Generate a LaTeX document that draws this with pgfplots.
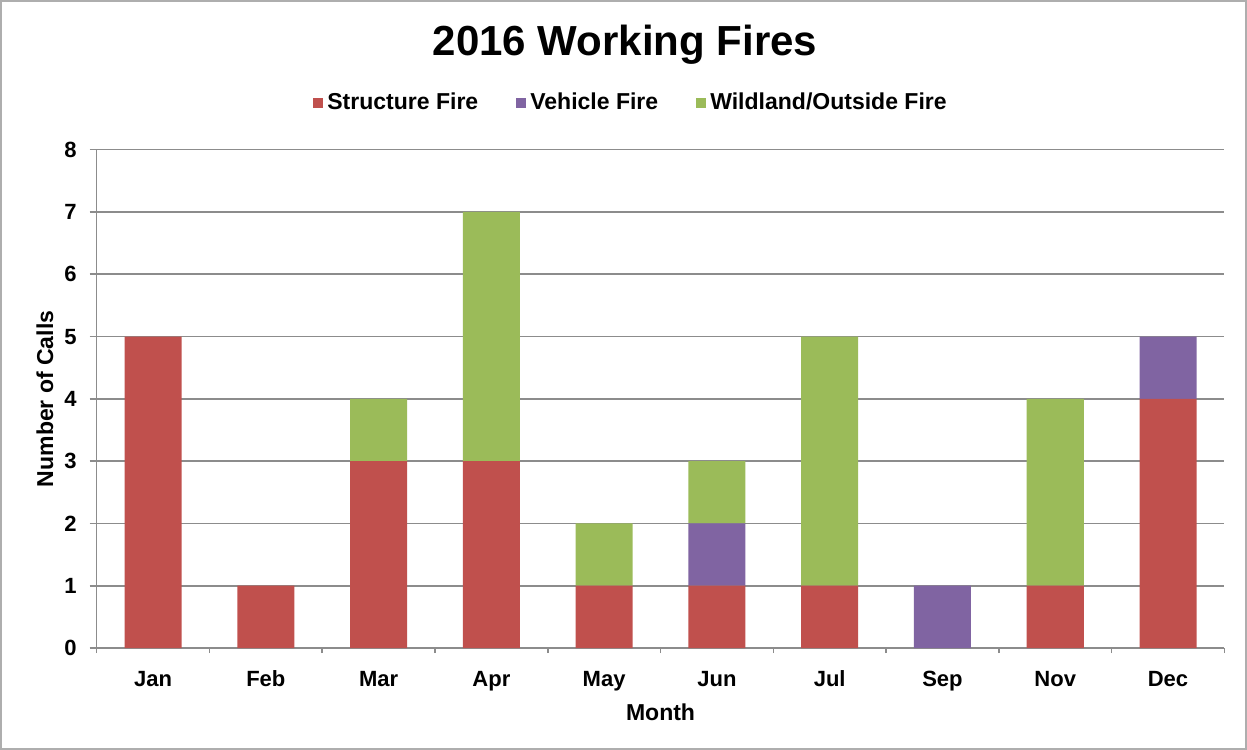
\documentclass[border=0pt]{standalone}
\usepackage{pgfplots}
\pgfplotsset{compat=1.18}
\usepackage{fontspec}
\setmainfont{Liberation Sans}
\definecolor{sfire}{HTML}{C0504D}
\definecolor{vfire}{HTML}{8064A2}
\definecolor{wfire}{HTML}{9BBB59}
\definecolor{gridgray}{HTML}{8C8C8C}
\begin{document}
\begin{tikzpicture}[x=1pt,y=1pt]
% outer frame, 1px = 0.5pt
\draw[gridgray!70, line width=0.8pt] (0.6,0.6) rectangle (622.9,374.4);
\node[font=\bfseries\fontsize{21}{25}\selectfont] at (312.5,352.5) {2016 Working Fires};
\begin{axis}[
    at={(48.5pt,51pt)}, anchor=south west,
    scale only axis,
    width=563.5pt, height=249pt,
    ybar stacked, bar width=28.5pt,
    xmin=-0.5, xmax=9.5,
    ymin=0, ymax=8,
    xtick={0,...,9},
    xticklabels={Jan,Feb,Mar,Apr,May,Jun,Jul,Sep,Nov,Dec},
    minor xtick={-0.5,0.5,...,9.5},
    major x tick style={draw=none},
    ytick={0,...,8},
    tick align=outside,
    tick style={gridgray, line width=0.8pt},
    major tick length=3.5pt, minor tick length=2.5pt,
    axis x line*=bottom, axis y line*=left,
    axis line style={gridgray, line width=0.8pt, -},
    ymajorgrids, grid style={gridgray, line width=0.8pt},
    tick label style={font=\bfseries\fontsize{11}{13}\selectfont},
    /pgf/number format/assume math mode=true,
    xticklabel style={text height=8pt, text depth=2pt, yshift=-4pt},
    yticklabel style={xshift=-3pt},
    xlabel={Month}, ylabel={Number of Calls},
    label style={font=\bfseries\fontsize{11.5}{14}\selectfont},
    xlabel style={at={(axis description cs:0.5,-0.1285)}, anchor=center},
    ylabel style={at={(axis description cs:-0.046,0.5)}, anchor=center},
    legend columns=3,
    legend style={draw=none, fill=none, at={(0.4747,1.094)}, anchor=center,
        font=\bfseries\fontsize{11.5}{14}\selectfont,
        /tikz/every even column/.append style={column sep=17pt}},
    legend image code/.code={\fill[#1] (0pt,-2.5pt) rectangle (5pt,2.5pt);},
]
\addplot[fill=sfire, draw=none] coordinates {(0,5) (1,1) (2,3) (3,3) (4,1) (5,1) (6,1) (7,0) (8,1) (9,4)};
\addplot[fill=vfire, draw=none] coordinates {(0,0) (1,0) (2,0) (3,0) (4,0) (5,1) (6,0) (7,1) (8,0) (9,1)};
\addplot[fill=wfire, draw=none] coordinates {(0,0) (1,0) (2,1) (3,4) (4,1) (5,1) (6,4) (7,0) (8,3) (9,0)};
\legend{Structure Fire, Vehicle Fire, Wildland/Outside Fire}
\end{axis}
\end{tikzpicture}
\end{document}
